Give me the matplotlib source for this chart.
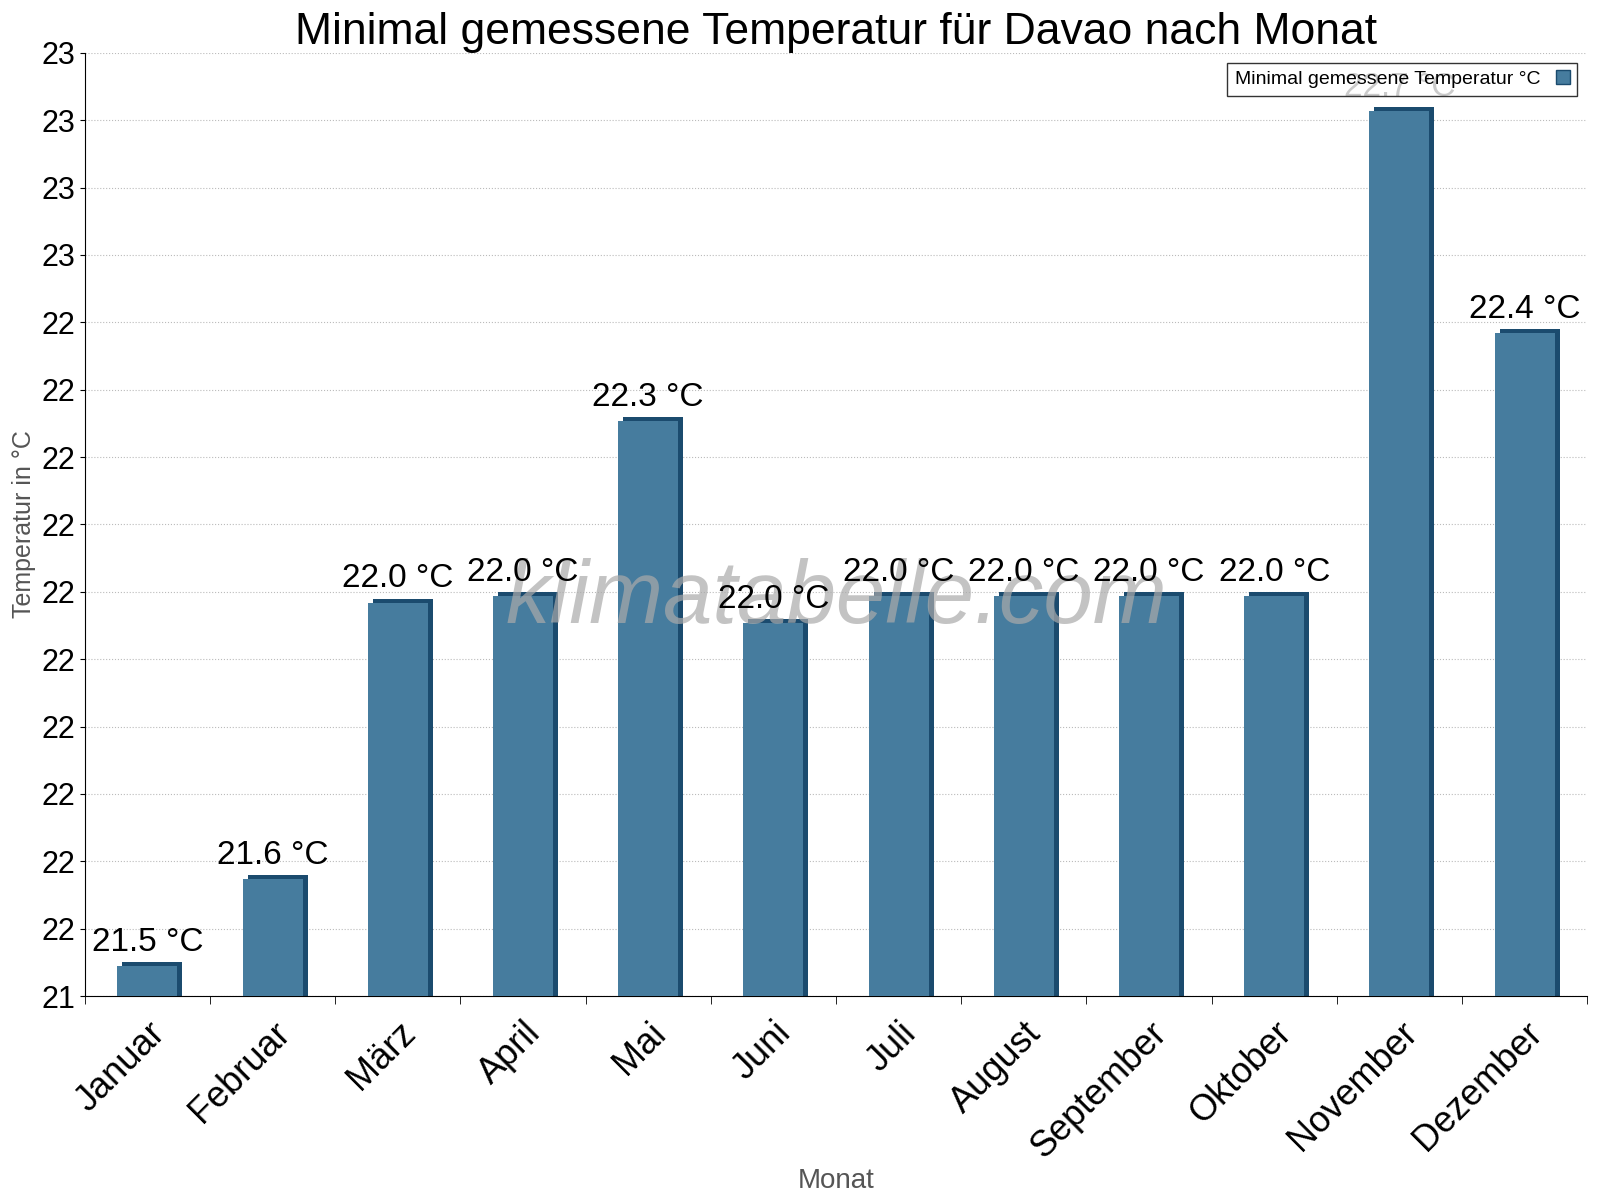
import matplotlib
matplotlib.use("Agg")
import matplotlib.pyplot as plt
from matplotlib.patches import Patch
import numpy as np

plt.rcParams["font.family"] = "Liberation Sans"

months = ["Januar","Februar","März","April","Mai","Juni","Juli","August","September","Oktober","November","Dezember"]
values = [21.45, 21.58, 21.99, 22.0, 22.26, 21.96, 22.0, 22.0, 22.0, 22.0, 22.72, 22.39]
labels = ["21.5 °C","21.6 °C","22.0 °C","22.0 °C","22.3 °C","22.0 °C","22.0 °C","22.0 °C","22.0 °C","22.0 °C","22.7 °C","22.4 °C"]
ymin, ymax = 21.4, 22.8

fig, ax = plt.subplots(figsize=(16, 12), dpi=100)
fig.subplots_adjust(left=0.053, right=0.992, top=0.956, bottom=0.17)
x = np.arange(len(months))
w = 0.48
dx, dy = 0.04, 0.006
ax.bar(x + dx, np.array(values) - ymin, width=w, bottom=ymin, color="#1b4b6e", zorder=2)
ax.bar(x, np.array(values) - dy - ymin, width=w, bottom=ymin, color="#467c9e", zorder=3)
for xi, v, l in zip(x, values, labels):
    ax.text(xi, v + 0.006, l, ha="center", va="bottom", fontsize=24, zorder=5)
ax.set_ylim(ymin, ymax)
ax.set_xlim(-0.5, 11.5)
ticks = np.round(np.arange(ymin, ymax + 0.001, 0.1), 2)
ax.set_yticks(ticks)
ax.set_yticklabels([str(int(np.floor(t + 0.5 + 1e-9))) for t in ticks], fontsize=22)
ax.set_xticks(x)
ax.set_xticklabels(months, rotation=45, ha="right", rotation_mode="anchor", fontsize=26)
ax.set_xticks(np.arange(-0.5, 12, 1), minor=True)
ax.tick_params(axis="x", which="major", length=0, pad=14)
ax.tick_params(axis="x", which="minor", length=6)
ax.grid(axis="y", linestyle=":", color="#bbbbbb", zorder=0)
for s in ["top", "right"]:
    ax.spines[s].set_visible(False)
ax.set_title("Minimal gemessene Temperatur für Davao nach Monat", fontsize=32, pad=6)
ax.set_xlabel("Monat", fontsize=20, color="#555555", labelpad=2)
ax.set_ylabel("Temperatur in °C", fontsize=18, color="#555555")
ax.text(0.5, 0.42, "klimatabelle.com", transform=ax.transAxes, fontsize=64, color="#aaaaaa", alpha=0.7, ha="center", va="center", style="italic", zorder=4)
ax.legend(handles=[Patch(facecolor="#467c9e", edgecolor="#1b4b6e")], labels=["Minimal gemessene Temperatur °C"],
          loc="upper right", fontsize=14, fancybox=False, edgecolor="black", markerfirst=False, handlelength=0.7)
fig.savefig("out.png")
